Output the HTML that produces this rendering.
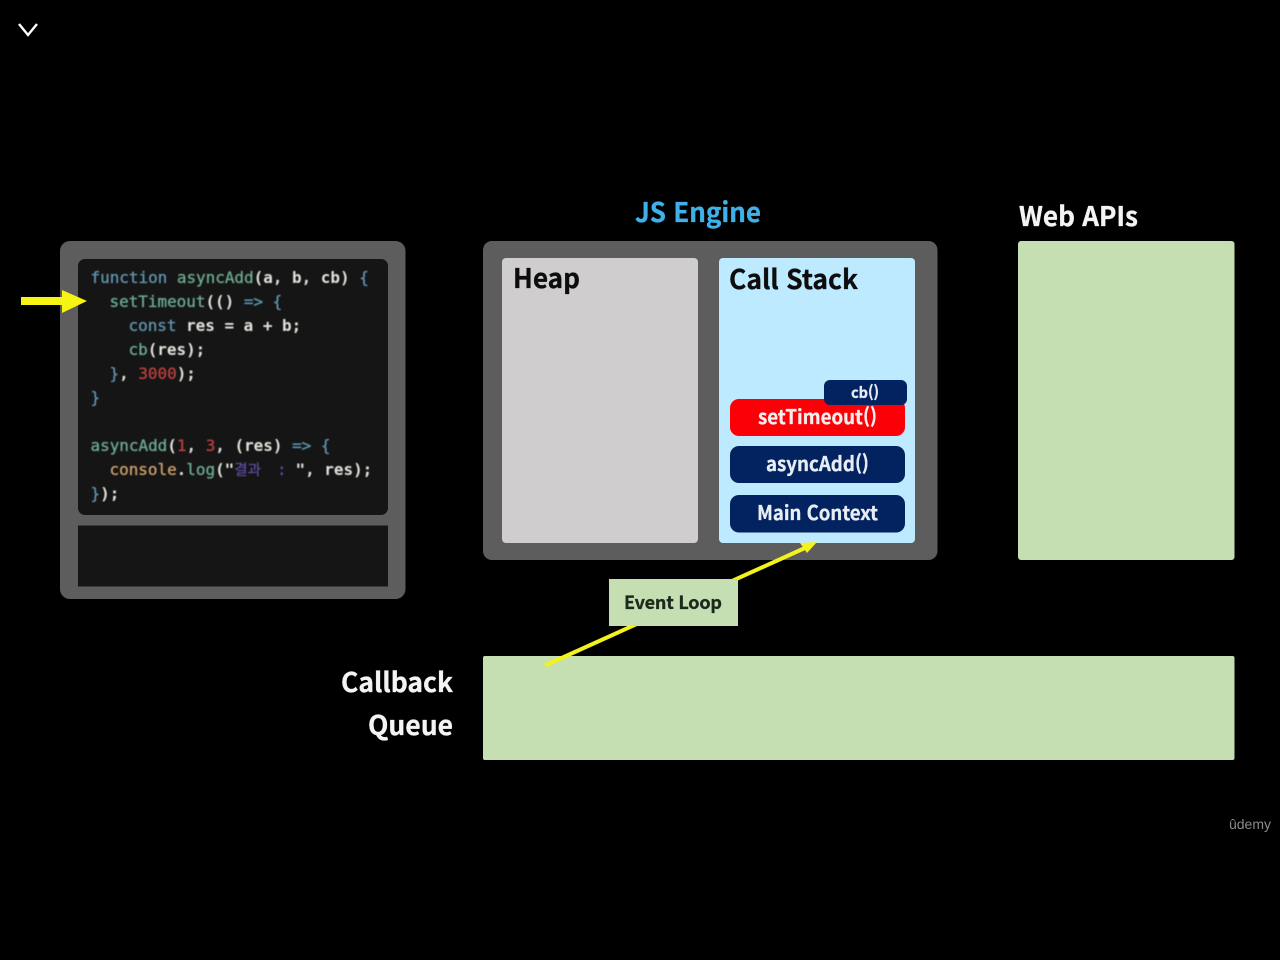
<!DOCTYPE html>
<html lang="ko">
<head>
<meta charset="utf-8">
<title>Event Loop</title>
<style>
html,body{margin:0;padding:0;background:#000;width:1280px;height:960px;overflow:hidden}
svg{display:block}
.h{font-family:"Noto Sans CJK KR","Liberation Sans",sans-serif;font-weight:700;filter:url(#a);stroke:currentColor;stroke-width:.3px}
.c{font-family:"DejaVu Sans Mono","Liberation Mono","Noto Sans CJK KR",monospace;font-size:15.95px;white-space:pre;filter:url(#b);stroke-width:.35px}
.w{fill:#e2e2dc;stroke:#e2e2dc;font-weight:700;stroke-width:0}
.k{fill:#5f93ad;stroke:#5f93ad}.v{fill:#6fa7c4;stroke:#6fa7c4}.o{fill:#cf9f6b;stroke:#cf9f6b}.n{fill:#b8403c;stroke:#b8403c}.s{fill:#5b4a9c;stroke:#5b4a9c}.g{fill:#6ba98f;stroke:#6ba98f}
</style>
</head>
<body>
<svg width="1280" height="960" viewBox="0 0 1280 960" xmlns="http://www.w3.org/2000/svg">
<defs>
<filter id="b"><feGaussianBlur stdDeviation="0.4"/></filter>
<filter id="a"><feGaussianBlur stdDeviation="0.3"/></filter>
</defs>
<rect width="1280" height="960" fill="#000"/>
<path d="M19 24 L28 35 L37 24" fill="none" stroke="#fff" stroke-width="2.4"/>

<rect x="60" y="241" width="345.500" height="358" rx="10" fill="#5d5d5d"/>
<rect x="78" y="259" width="310" height="256" rx="7" fill="#151515"/>
<rect x="78" y="525.500" width="310" height="61" fill="#151515"/>

<text class="c" y="283"><tspan x="90.500" class="k">function </tspan><tspan class="g">asyncAdd</tspan><tspan class="w">(a, b, cb) </tspan><tspan class="k">{</tspan></text>
<text class="c" y="307"><tspan x="109.500" class="g">setTimeout</tspan><tspan class="w">(() </tspan><tspan class="k">=&gt; {</tspan></text>
<text class="c" y="331"><tspan x="128.500" class="k">const </tspan><tspan class="w">res = a + b;</tspan></text>
<text class="c" y="355"><tspan x="128.500" class="g">cb</tspan><tspan class="w">(res);</tspan></text>
<text class="c" y="379"><tspan x="109.500" class="k">}</tspan><tspan class="w">, </tspan><tspan class="n">3000</tspan><tspan class="w">);</tspan></text>
<text class="c" y="403"><tspan x="90.500" class="k">}</tspan></text>
<text class="c" y="451"><tspan x="90.500" class="g">asyncAdd</tspan><tspan class="w">(</tspan><tspan class="n">1</tspan><tspan class="w">, </tspan><tspan class="n">3</tspan><tspan class="w">, (res) </tspan><tspan class="k">=&gt; {</tspan></text>
<text class="c" y="475"><tspan x="109.500" class="o">console</tspan><tspan class="w">.</tspan><tspan class="g">log</tspan><tspan class="w">("</tspan><tspan class="s" font-size="14.500">결과</tspan><tspan x="277" class="s">:</tspan><tspan x="295.500" class="w">", res);</tspan></text>
<text class="c" y="499"><tspan x="90.500" class="k">}</tspan><tspan class="w">);</tspan></text>

<path d="M21 297 H62 V290 L87 301 L62 313 V305 H21 Z" fill="#f7f312"/>

<text class="h" x="635" y="222" textLength="126" lengthAdjust="spacingAndGlyphs" font-size="27" fill="#3fb0e8" color="#3fb0e8">JS Engine</text>
<text class="h" x="1019" y="226" textLength="119" lengthAdjust="spacingAndGlyphs" font-size="27" fill="#f4f4f4" color="#f4f4f4">Web APIs</text>

<rect x="483" y="241" width="454.500" height="319" rx="9" fill="#5d5d5d"/>
<rect x="502" y="258" width="196" height="285" rx="4" fill="#cfcdcd"/>
<rect x="719" y="258" width="196" height="285" rx="4" fill="#bdeaff"/>
<text class="h" x="513" y="288" textLength="67" lengthAdjust="spacingAndGlyphs" font-size="27" fill="#111" color="#111">Heap</text>
<text class="h" x="729" y="289" textLength="129" lengthAdjust="spacingAndGlyphs" font-size="27" fill="#111" color="#111">Call Stack</text>

<rect x="730" y="399" width="175" height="37" rx="9" fill="#fb0006"/>
<text class="h" x="758" y="424" textLength="119" lengthAdjust="spacingAndGlyphs" font-size="20" fill="#f5eeee" color="#f5eeee">setTimeout()</text>
<rect x="824" y="380" width="83" height="25" rx="6" fill="#02235f"/>
<text class="h" x="851" y="398" textLength="28" lengthAdjust="spacingAndGlyphs" font-size="15.500" fill="#e8edf5" color="#e8edf5">cb()</text>
<rect x="730" y="446" width="175" height="37" rx="9" fill="#02235f"/>
<text class="h" x="766" y="471" textLength="103" lengthAdjust="spacingAndGlyphs" font-size="20" fill="#e8edf5" color="#e8edf5">asyncAdd()</text>
<rect x="730" y="495" width="175" height="37.500" rx="9" fill="#02235f"/>
<text class="h" x="757" y="520" textLength="121" lengthAdjust="spacingAndGlyphs" font-size="20" fill="#e8edf5" color="#e8edf5">Main Context</text>

<rect x="1018" y="241" width="216.500" height="319" rx="3" fill="#c5deb2"/>
<rect x="483" y="656" width="751.500" height="104" rx="2" fill="#c5deb2"/>

<line x1="545" y1="665.500" x2="806" y2="547.500" stroke="#f4f21d" stroke-width="4"/>
<path d="M817 542 L800 543 L807 553 Z" fill="#f4f21d"/>
<rect x="609" y="579" width="129" height="47" fill="#c5deb2"/>
<text class="h" x="624" y="609" textLength="98" lengthAdjust="spacing" font-size="18" fill="#1c2a1c" color="#1c2a1c" font-weight="500">Event Loop</text>

<text class="h" x="341" y="692" textLength="112" lengthAdjust="spacingAndGlyphs" font-size="27" fill="#f4f4f4" color="#f4f4f4">Callback</text>
<text class="h" x="368" y="735" textLength="85" lengthAdjust="spacingAndGlyphs" font-size="27" fill="#f4f4f4" color="#f4f4f4">Queue</text>

<text x="1229" y="829" textLength="42" lengthAdjust="spacingAndGlyphs" font-family="Liberation Sans, sans-serif" font-size="13.500" fill="#8a8a8a">ûdemy</text>
</svg>
</body>
</html>
